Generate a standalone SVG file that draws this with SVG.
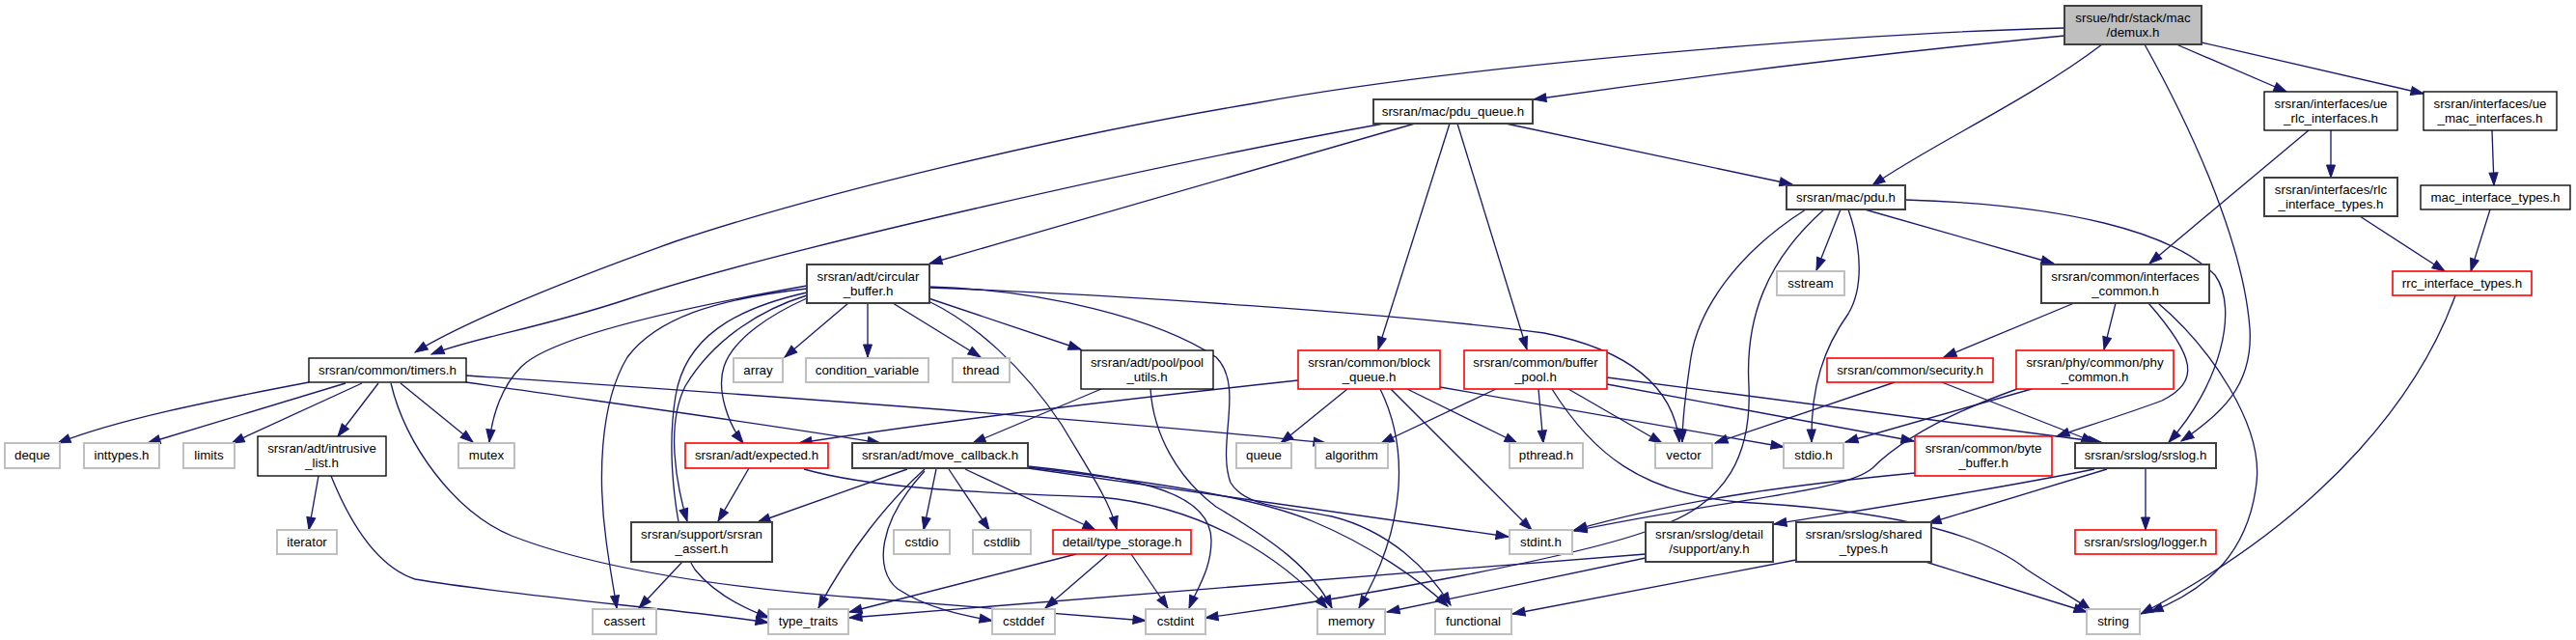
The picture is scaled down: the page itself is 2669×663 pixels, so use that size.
<svg xmlns="http://www.w3.org/2000/svg" width="2669" height="663" viewBox="0 0 2669 663">
<defs>
<style>
text{font-family:"Liberation Sans",Arial,Helvetica,sans-serif;font-size:13.33px;text-anchor:middle;fill:#000}
rect{fill:#fff;stroke-width:1.33}
.b{stroke:#000}
.k{stroke:#404040;stroke-width:2}
.g{stroke:#bfbfbf;stroke-width:2}
.r{stroke:#ff0000;stroke-width:1.6}
.root{fill:#bfbfbf;stroke:#404040;stroke-width:2}
.e path{fill:none;stroke:#191970;stroke-width:1.33;marker-end:url(#a)}
</style>
<marker id="a" markerUnits="userSpaceOnUse" markerWidth="15" markerHeight="11" refX="13" refY="5" orient="auto" overflow="visible">
<path d="M0,0.5 L13,5 L0,9.5 z" fill="#191970" stroke="#191970" stroke-width="1"/>
</marker>
</defs>
<rect x="0" y="0" width="2669" height="663" style="fill:#fff;stroke:none"/>
<g id="edges" class="e">
<path d="M2139,29 C1900,35 1500,70 1300,107 C1100,140 850,200 700,250 C560,300 470,340 430,365"/>
<path d="M2139,37 C1950,55 1750,80 1589,103"/>
<path d="M2178,46 C2100,105 2000,150 1940,192"/>
<path d="M2222,46 C2280,150 2325,260 2331,340 C2335,400 2300,430 2260,457"/>
<path d="M2255,46 L2369,95"/>
<path d="M2281,44 L2511,97"/>
<path d="M2415,135 L2415,184"/>
<path d="M2392,135 L2227,273"/>
<path d="M2582,135 L2584,192"/>
<path d="M2445,224 L2533,281"/>
<path d="M2580,217 L2560,281"/>
<path d="M2544,306 C2510,400 2420,530 2218,636"/>
<path d="M1434,128 C1200,170 800,260 650,310 C560,340 490,350 447,367"/>
<path d="M1466,128 L963,273"/>
<path d="M1502,128 L1428,362"/>
<path d="M1510,128 L1582,362"/>
<path d="M1560,128 L1857,191"/>
<path d="M1871,217 C1800,262 1760,320 1752,370 C1746,410 1743,440 1743,458"/>
<path d="M1890,217 C1830,270 1808,330 1812,400 C1815,470 1790,520 1720,545 C1650,575 1400,620 1249,640"/>
<path d="M1907,217 L1882,280"/>
<path d="M1915,217 C1930,260 1930,300 1915,325 C1890,360 1876,400 1877,458"/>
<path d="M1932,217 L2128,273"/>
<path d="M1974,207 C2140,212 2250,240 2295,285 C2320,320 2300,400 2247,458"/>
<path d="M2149,314 L2014,370"/>
<path d="M2192,314 L2180,362"/>
<path d="M2226,314 C2275,370 2280,395 2240,415 C2200,430 2160,442 2131,452"/>
<path d="M2236,314 C2290,360 2345,440 2338,500 C2330,570 2290,610 2228,634"/>
<path d="M836,296 C700,320 570,350 540,380 C520,400 510,430 507,458"/>
<path d="M836,299 C740,310 680,330 650,370 C620,420 620,500 628,560 C632,590 636,610 639,630"/>
<path d="M836,303 C760,320 710,350 700,410 C690,470 700,560 720,590 C740,615 770,630 797,640"/>
<path d="M836,306 C790,320 740,350 710,400 C690,440 700,500 712,540"/>
<path d="M836,309 C800,325 760,350 750,380 C742,405 755,440 770,459"/>
<path d="M879,314 L813,370"/>
<path d="M899,314 L899,370"/>
<path d="M925,314 L1016,370"/>
<path d="M962,309 L1120,362"/>
<path d="M962,312 C1010,335 1060,380 1100,440 C1130,490 1150,520 1157,548"/>
<path d="M962,298 C1150,305 1450,325 1600,345 C1700,365 1735,410 1740,458"/>
<path d="M962,297 C1080,300 1200,330 1260,370 C1290,400 1260,460 1275,500 C1290,525 1330,525 1380,535 C1440,550 1480,590 1503,627"/>
<path d="M320,396 C220,415 120,435 60,459"/>
<path d="M358,397 L153,459"/>
<path d="M375,397 L240,459"/>
<path d="M392,397 L350,452"/>
<path d="M415,397 L490,458"/>
<path d="M405,397 C420,460 470,530 530,555 C620,590 760,610 900,620 C1000,628 1100,636 1187,643"/>
<path d="M483,389 C800,410 1200,440 1374,459"/>
<path d="M483,396 C650,420 800,440 912,459"/>
<path d="M330,493 L320,549"/>
<path d="M343,493 C370,560 400,590 430,600 C550,620 700,630 796,645"/>
<path d="M707,582 L662,630"/>
<path d="M776,485 L744,540"/>
<path d="M833,486 C900,505 1000,510 1140,515 C1250,525 1330,580 1375,630"/>
<path d="M940,486 L785,541"/>
<path d="M958,486 C920,520 880,570 848,630"/>
<path d="M958,488 C910,540 905,590 930,610 C960,630 1000,638 1028,643"/>
<path d="M970,486 L957,549"/>
<path d="M983,486 L1025,549"/>
<path d="M1000,486 L1135,549"/>
<path d="M1065,485 L1563,556"/>
<path d="M1065,483 C1180,495 1255,510 1255,560 C1255,590 1240,610 1232,630"/>
<path d="M1065,484 C1200,500 1300,515 1360,540 C1420,565 1470,600 1500,628"/>
<path d="M1141,403 L1008,459"/>
<path d="M1192,403 C1195,450 1220,495 1260,525 C1320,560 1360,590 1380,630"/>
<path d="M1115,574 L880,634"/>
<path d="M1148,574 L1083,630"/>
<path d="M1172,574 L1210,630"/>
<path d="M1345,394 C1150,415 950,440 828,459"/>
<path d="M1396,403 L1327,459"/>
<path d="M1430,403 C1458,460 1460,540 1408,630"/>
<path d="M1458,403 L1572,459"/>
<path d="M1441,403 L1587,549"/>
<path d="M1492,401 L1848,463"/>
<path d="M1550,403 L1431,459"/>
<path d="M1594,403 L1599,459"/>
<path d="M1625,403 L1722,459"/>
<path d="M1608,403 C1650,470 1700,510 1800,520 C1950,528 2050,550 2100,590 C2130,610 2150,620 2166,632"/>
<path d="M1665,398 L1983,457"/>
<path d="M1665,391 L2177,458"/>
<path d="M1963,396 L1777,459"/>
<path d="M2012,396 L2170,458"/>
<path d="M2105,403 L1912,458"/>
<path d="M2090,403 C2000,435 1960,465 1940,485 C1910,510 1800,515 1631,550"/>
<path d="M1984,490 C1880,500 1750,515 1631,549"/>
<path d="M2170,486 C2050,510 1950,525 1838,543"/>
<path d="M2183,486 L1998,542"/>
<path d="M2223,486 L2223,549"/>
<path d="M1705,574 C1500,590 1100,622 880,640"/>
<path d="M1705,578 L1437,634"/>
<path d="M1861,580 L1567,636"/>
<path d="M1995,582 L2162,634"/>
</g>
<g id="n_demux"><rect class="root" x="2139" y="6" width="142" height="40"/><text x="2210" y="23">srsue/hdr/stack/mac</text><text x="2210" y="38">/demux.h</text></g>
<g id="n_pdu_queue"><rect class="k" x="1423" y="103" width="165" height="25"/><text x="1505.5" y="120">srsran/mac/pdu_queue.h</text></g>
<g id="n_ue_rlc"><rect class="b" x="2346" y="95" width="138" height="40"/><text x="2415" y="112">srsran/interfaces/ue</text><text x="2415" y="127">_rlc_interfaces.h</text></g>
<g id="n_ue_mac"><rect class="b" x="2511" y="95" width="138" height="40"/><text x="2580" y="112">srsran/interfaces/ue</text><text x="2580" y="127">_mac_interfaces.h</text></g>
<g id="n_rlc_types"><rect class="k" x="2346" y="184" width="138" height="40"/><text x="2415" y="201">srsran/interfaces/rlc</text><text x="2415" y="216">_interface_types.h</text></g>
<g id="n_mac_types"><rect class="b" x="2508" y="192" width="155" height="25"/><text x="2585.5" y="209">mac_interface_types.h</text></g>
<g id="n_rrc_types"><rect class="r" x="2479" y="281" width="144" height="25"/><text x="2551" y="298">rrc_interface_types.h</text></g>
<g id="n_if_common"><rect class="k" x="2115" y="274" width="174" height="40"/><text x="2202" y="291">srsran/common/interfaces</text><text x="2202" y="306">_common.h</text></g>
<g id="n_pdu"><rect class="k" x="1851" y="192" width="123" height="25"/><text x="1912.5" y="209">srsran/mac/pdu.h</text></g>
<g id="n_sstream"><rect class="g" x="1841" y="281" width="70" height="25"/><text x="1876" y="298">sstream</text></g>
<g id="n_circular"><rect class="k" x="836" y="274" width="127" height="40"/><text x="899.5" y="291">srsran/adt/circular</text><text x="899.5" y="306">_buffer.h</text></g>
<g id="n_timers"><rect class="b" x="320" y="371" width="163" height="25"/><text x="401.5" y="388">srsran/common/timers.h</text></g>
<g id="n_deque"><rect class="g" x="5" y="459" width="57" height="26"/><text x="33.5" y="476">deque</text></g>
<g id="n_inttypes"><rect class="g" x="87" y="459" width="78" height="26"/><text x="126" y="476">inttypes.h</text></g>
<g id="n_limits"><rect class="g" x="190" y="459" width="53" height="26"/><text x="216.5" y="476">limits</text></g>
<g id="n_intrusive"><rect class="b" x="267" y="452" width="133" height="41"/><text x="333.5" y="469">srsran/adt/intrusive</text><text x="333.5" y="484">_list.h</text></g>
<g id="n_mutex"><rect class="g" x="475" y="459" width="58" height="26"/><text x="504" y="476">mutex</text></g>
<g id="n_iterator"><rect class="g" x="287" y="549" width="62" height="25"/><text x="318" y="566">iterator</text></g>
<g id="n_cassert"><rect class="g" x="614" y="631" width="66" height="26"/><text x="647" y="648">cassert</text></g>
<g id="n_array"><rect class="g" x="760" y="371" width="51" height="25"/><text x="785.5" y="388">array</text></g>
<g id="n_condvar"><rect class="g" x="835" y="371" width="127" height="25"/><text x="898.5" y="388">condition_variable</text></g>
<g id="n_thread"><rect class="g" x="987" y="371" width="59" height="25"/><text x="1016.5" y="388">thread</text></g>
<g id="n_pool_utils"><rect class="b" x="1120" y="363" width="137" height="40"/><text x="1188.5" y="380">srsran/adt/pool/pool</text><text x="1188.5" y="395">_utils.h</text></g>
<g id="n_expected"><rect class="r" x="710" y="459" width="148" height="26"/><text x="784" y="476">srsran/adt/expected.h</text></g>
<g id="n_move_cb"><rect class="k" x="883" y="459" width="182" height="26"/><text x="974" y="476">srsran/adt/move_callback.h</text></g>
<g id="n_queue"><rect class="g" x="1281" y="459" width="57" height="26"/><text x="1309.5" y="476">queue</text></g>
<g id="n_assert"><rect class="k" x="654" y="541" width="146" height="41"/><text x="727" y="558">srsran/support/srsran</text><text x="727" y="573">_assert.h</text></g>
<g id="n_cstdio"><rect class="g" x="926" y="549" width="58" height="25"/><text x="955" y="566">cstdio</text></g>
<g id="n_cstdlib"><rect class="g" x="1008" y="549" width="60" height="25"/><text x="1038" y="566">cstdlib</text></g>
<g id="n_type_storage"><rect class="r" x="1091" y="549" width="143" height="25"/><text x="1162.5" y="566">detail/type_storage.h</text></g>
<g id="n_type_traits"><rect class="g" x="796" y="631" width="83" height="26"/><text x="837.5" y="648">type_traits</text></g>
<g id="n_cstddef"><rect class="g" x="1028" y="631" width="65" height="26"/><text x="1060.5" y="648">cstddef</text></g>
<g id="n_cstdint"><rect class="g" x="1187" y="631" width="62" height="26"/><text x="1218" y="648">cstdint</text></g>
<g id="n_block_queue"><rect class="r" x="1345" y="363" width="147" height="40"/><text x="1418.5" y="380">srsran/common/block</text><text x="1418.5" y="395">_queue.h</text></g>
<g id="n_buffer_pool"><rect class="r" x="1517" y="363" width="148" height="40"/><text x="1591" y="380">srsran/common/buffer</text><text x="1591" y="395">_pool.h</text></g>
<g id="n_security"><rect class="r" x="1893" y="371" width="172" height="25"/><text x="1979" y="388">srsran/common/security.h</text></g>
<g id="n_algorithm"><rect class="g" x="1363" y="459" width="75" height="26"/><text x="1400.5" y="476">algorithm</text></g>
<g id="n_pthread"><rect class="g" x="1564" y="459" width="76" height="26"/><text x="1602" y="476">pthread.h</text></g>
<g id="n_vector"><rect class="g" x="1715" y="459" width="59" height="26"/><text x="1744.5" y="476">vector</text></g>
<g id="n_stdio"><rect class="g" x="1848" y="459" width="62" height="26"/><text x="1879" y="476">stdio.h</text></g>
<g id="n_byte_buffer"><rect class="r" x="1984" y="452" width="142" height="41"/><text x="2055" y="469">srsran/common/byte</text><text x="2055" y="484">_buffer.h</text></g>
<g id="n_stdint"><rect class="g" x="1564" y="549" width="65" height="25"/><text x="1596.5" y="566">stdint.h</text></g>
<g id="n_any"><rect class="k" x="1705" y="541" width="132" height="41"/><text x="1771" y="558">srsran/srslog/detail</text><text x="1771" y="573">/support/any.h</text></g>
<g id="n_shared_types"><rect class="k" x="1861" y="541" width="140" height="41"/><text x="1931" y="558">srsran/srslog/shared</text><text x="1931" y="573">_types.h</text></g>
<g id="n_memory"><rect class="g" x="1365" y="631" width="70" height="26"/><text x="1400" y="648">memory</text></g>
<g id="n_functional"><rect class="g" x="1487" y="631" width="79" height="26"/><text x="1526.5" y="648">functional</text></g>
<g id="n_phy_common"><rect class="r" x="2089" y="363" width="163" height="40"/><text x="2170.5" y="380">srsran/phy/common/phy</text><text x="2170.5" y="395">_common.h</text></g>
<g id="n_srslog"><rect class="k" x="2150" y="459" width="146" height="26"/><text x="2223" y="476">srsran/srslog/srslog.h</text></g>
<g id="n_logger"><rect class="r" x="2150" y="549" width="146" height="25"/><text x="2223" y="566">srsran/srslog/logger.h</text></g>
<g id="n_string"><rect class="g" x="2162" y="631" width="55" height="26"/><text x="2189.5" y="648">string</text></g>
</svg>
